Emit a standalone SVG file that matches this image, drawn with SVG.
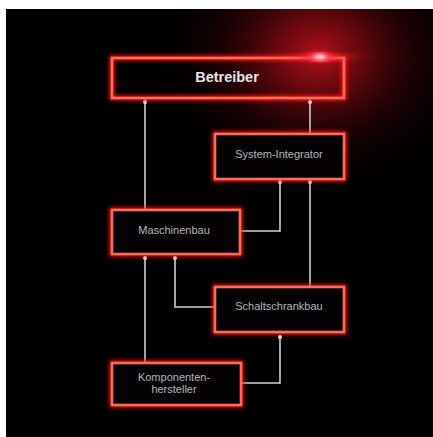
<svg xmlns="http://www.w3.org/2000/svg" width="433" height="437" viewBox="0 0 433 437">
<defs>
<style>
.box{fill:#050203;stroke:#ff6a5c;stroke-width:2.6}
.glow{fill:none;stroke:#ff1a10;stroke-width:5;filter:url(#blur);opacity:0.95}
.lbl{font-family:"Liberation Sans",Arial,sans-serif;font-size:11px;fill:#b5b5be;text-anchor:middle}
.title{font-family:"Liberation Sans",Arial,sans-serif;font-size:14.5px;font-weight:bold;fill:#e6e6e6;text-anchor:middle}
.wire{fill:none;stroke:#cfcfd4;stroke-width:1.6}
.dot{fill:#f4f4f6}
</style>
<filter id="blur" x="-20%" y="-40%" width="140%" height="180%"><feGaussianBlur stdDeviation="2.2"/></filter>
<filter id="soft" x="-50%" y="-50%" width="200%" height="200%"><feGaussianBlur stdDeviation="3"/></filter>
<radialGradient id="bgGlow" cx="318" cy="55" r="175" gradientUnits="userSpaceOnUse" gradientTransform="translate(318 55) scale(1 0.85) translate(-318 -55)">
<stop offset="0" stop-color="#c0121c" stop-opacity="0.95"/>
<stop offset="0.25" stop-color="#860a12" stop-opacity="0.75"/>
<stop offset="0.55" stop-color="#3c0408" stop-opacity="0.45"/>
<stop offset="0.8" stop-color="#150102" stop-opacity="0.2"/>
<stop offset="1" stop-color="#000" stop-opacity="0"/>
</radialGradient>
<radialGradient id="flare" cx="0.5" cy="0.5" r="0.5">
<stop offset="0" stop-color="#ffe0e8" stop-opacity="1"/>
<stop offset="0.35" stop-color="#ff4060" stop-opacity="0.8"/>
<stop offset="1" stop-color="#ff0020" stop-opacity="0"/>
</radialGradient>
<linearGradient id="streak" x1="0" x2="1" y1="0" y2="0">
<stop offset="0" stop-color="#ff2030" stop-opacity="0"/>
<stop offset="0.5" stop-color="#ff3848" stop-opacity="0.7"/>
<stop offset="1" stop-color="#ff2030" stop-opacity="0"/>
</linearGradient>
</defs>
<rect x="0" y="0" width="433" height="437" fill="#ffffff"/>
<rect x="6" y="9" width="427" height="428" fill="#000000"/>
<rect x="6" y="9" width="427" height="428" fill="url(#bgGlow)"/>

<g id="connectors">
<path class="wire" d="M145,210 V99"/>
<path class="wire" d="M310,134 V99"/>
<path class="wire" d="M241,231 H280 V180"/>
<path class="wire" d="M310,287 V180"/>
<path class="wire" d="M215,307 H175 V256"/>
<path class="wire" d="M145,363 V256"/>
<path class="wire" d="M242,383 H280 V335"/>
<circle class="dot" cx="145" cy="102" r="2"/>
<circle class="dot" cx="310" cy="102" r="2"/>
<circle class="dot" cx="280" cy="182" r="2"/>
<circle class="dot" cx="310" cy="182" r="2"/>
<circle class="dot" cx="145" cy="258" r="2"/>
<circle class="dot" cx="175" cy="258" r="2"/>
<circle class="dot" cx="280" cy="337" r="2"/>
</g>

<g id="betreiber">
<rect class="glow" x="112" y="58" width="232" height="40"/>
<rect x="112" y="58" width="232" height="40" fill="none" stroke="#ff6a5c" stroke-width="2.6"/>
<text class="title" x="227" y="82">Betreiber</text>
</g>

<g id="system-integrator">
<rect class="glow" x="215" y="134" width="129" height="45"/>
<rect class="box" x="215" y="134" width="129" height="45"/>
<text class="lbl" x="279" y="158">System-Integrator</text>
</g>

<g id="maschinenbau">
<rect class="glow" x="112" y="210" width="128" height="44"/>
<rect class="box" x="112" y="210" width="128" height="44"/>
<text class="lbl" x="174" y="234">Maschinenbau</text>
</g>

<g id="schaltschrankbau">
<rect class="glow" x="215" y="287" width="129" height="45"/>
<rect class="box" x="215" y="287" width="129" height="45"/>
<text class="lbl" x="279" y="310">Schaltschrankbau</text>
</g>

<g id="komponentenhersteller">
<rect class="glow" x="112" y="363" width="129" height="42"/>
<rect class="box" x="112" y="363" width="129" height="42"/>
<text class="lbl" x="174" y="381">Komponenten-</text>
<text class="lbl" x="174" y="393">hersteller</text>
</g>

<ellipse cx="320" cy="57" rx="60" ry="2.5" fill="url(#streak)" filter="url(#soft)"/>
<ellipse cx="320" cy="57" rx="22" ry="8" fill="url(#flare)"/>
<ellipse cx="320" cy="57" rx="5" ry="2.5" fill="#fff2f4" filter="url(#soft)"/>
</svg>
